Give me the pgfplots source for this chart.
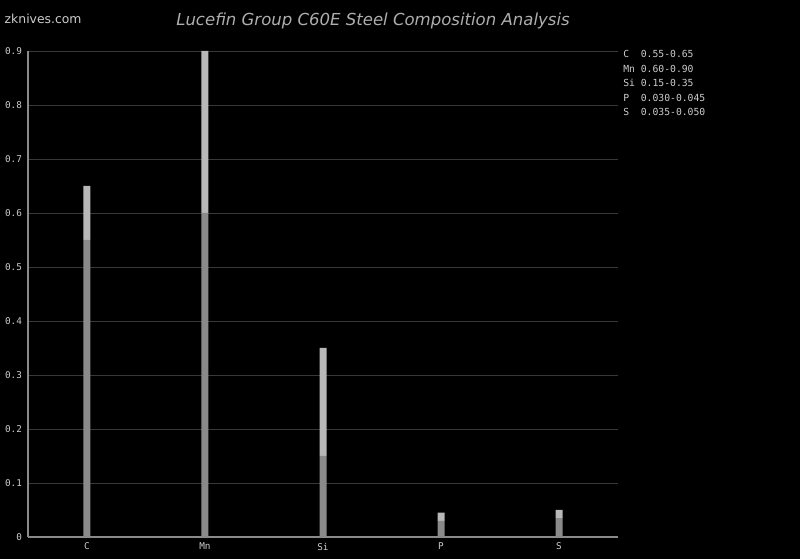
\documentclass[border=0pt]{standalone}
\usepackage{pgfplots}
\pgfplotsset{compat=1.18}
\usepackage{fontspec}
\setmainfont{DejaVu Sans}
\newfontfamily\monofont{DejaVu Sans Mono}
\definecolor{gridc}{HTML}{383838}
\definecolor{axisc}{HTML}{8A8A8A}
\definecolor{txtc}{HTML}{CDCDCD}
\definecolor{lowc}{HTML}{8A8A8A}
\definecolor{highc}{HTML}{B8B8B8}

\pgfplotstableread{
x name low span
0 C  0.55  0.10
1 Mn 0.60  0.30
2 Si 0.15  0.20
3 P  0.030 0.015
4 S  0.035 0.015
}\steel

\begin{document}
\begin{tikzpicture}[x=0.75pt,y=0.75pt]
\fill[black] (0,0) rectangle (800,559);
\begin{axis}[
    at={(21pt,16.5pt)}, anchor=south west,
    scale only axis,
    width=442.5pt, height=364.5pt,
    xmin=-0.5, xmax=4.5,
    ymin=0, ymax=0.9,
    ytick={0,0.1,...,0.9},
    xtick=data,
    xticklabels={C,Mn,Si,P,S},
    ybar stacked,
    bar width=5.25pt,
    axis x line*=bottom,
    axis y line*=left,
    axis line style={axisc, line width=0.8pt},
    ymajorgrids=true,
    grid style={gridc, line width=0.6pt},
    major tick length=0pt,
    tick style={draw=none},
    /pgf/number format/assume math mode=true,
    /pgf/number format/fixed,
    ticklabel style={font=\monofont\fontsize{7}{8}\selectfont, text=txtc},
    yticklabel style={xshift=-1pt},
    xticklabel style={yshift=-1pt},
]
\addplot[fill=lowc, draw=none] table[x=x, y=low] {\steel};
\addplot[fill=highc, draw=none] table[x=x, y=span] {\steel};
\end{axis}
\node[anchor=west, text=txtc, font=\fontsize{9.3}{10}\selectfont] at (0,540) {zknives.com};
\node[text=txtc!85!black, font=\itshape\fontsize{12.4}{14}\selectfont] at (373,538) {Lucefin Group C60E Steel Composition Analysis};
\begin{scope}[every node/.style={anchor=west, text=txtc, font=\monofont\fontsize{7.3}{8}\selectfont, inner sep=0pt}]
\node at (623,505) {C\ \ 0.55-0.65};
\node at (623,490.5) {Mn 0.60-0.90};
\node at (623,476) {Si 0.15-0.35};
\node at (623,461.5) {P\ \ 0.030-0.045};
\node at (623,447) {S\ \ 0.035-0.050};
\end{scope}
\end{tikzpicture}
\end{document}
